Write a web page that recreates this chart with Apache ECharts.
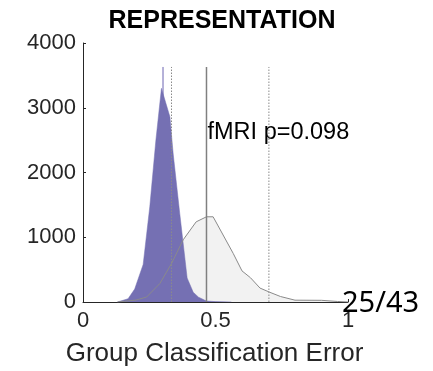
<!DOCTYPE html>
<html>
<head>
<meta charset="utf-8">
<script src="https://cdn.jsdelivr.net/npm/echarts@6/dist/echarts.min.js"></script>
<style>html,body{margin:0;padding:0;background:#fff}#c{width:433px;height:371px}</style>
</head>
<body>
<div id="c"></div>
<script>
// ---- data ----
const xTicks = [0, 0.5, 1];
const yTicks = [0, 1000, 2000, 3000, 4000];

// null (shuffled) distribution of group classification error – purple
const purpleX = [0.13, 0.17, 0.195, 0.227, 0.252, 0.275, 0.296, 0.328, 0.34, 0.365, 0.393, 0.416, 0.436, 0.466, 0.5, 0.56];
const purpleY = [0, 50, 200, 580, 1470, 2500, 3300, 2860, 2300, 1370, 370, 150, 75, 15, 6, 0];

// fMRI distribution – gray
const grayX = [0.13, 0.2, 0.24, 0.29, 0.334, 0.378, 0.427, 0.466, 0.491, 0.567, 0.6, 0.632, 0.668, 0.705, 0.745, 0.8, 0.9, 0.96, 1.0];
const grayY = [0, 30, 77, 285, 594, 960, 1238, 1316, 1316, 749, 480, 375, 215, 150, 85, 28, 26, 8, 0];

// reference lines
const lineTop = 3630;
const purpleMeanX = 0.302;
const grayMeanX = 0.466;
const dottedX = [0.334, 0.7015];

const titleText = 'REPRESENTATION';
const annotText = 'fMRI p=0.098';
const countText = '25/43';
const xLabel = 'Group Classification Error';

// ---- build ----
const zip = (xs, ys) => xs.map((x, i) => [x, ys[i]]);
const vline = x => [[x, 0], [x, lineTop]];

const chart = echarts.init(document.getElementById('c'), null, {renderer: 'canvas'});
const axisColor = '#262626';
const font = 'Liberation Sans';

chart.setOption({
  animation: false,
  grid: {left: 83, right: 85, top: 43, bottom: 69, outerBoundsMode: 'none', containLabel: false},
  xAxis: {
    type: 'value', min: xTicks[0], max: xTicks[xTicks.length - 1], interval: 0.5,
    axisLine: {lineStyle: {color: axisColor, width: 1}},
    axisTick: {inside: true, length: 3, lineStyle: {color: axisColor}},
    axisLabel: {color: axisColor, fontSize: 22, fontFamily: font, margin: 8,
      formatter: v => String(v)},
    splitLine: {show: false}
  },
  yAxis: {
    type: 'value', min: yTicks[0], max: yTicks[yTicks.length - 1], interval: 1000,
    axisLine: {show: true, lineStyle: {color: axisColor, width: 1}},
    axisTick: {show: true, inside: true, length: 3, lineStyle: {color: axisColor}},
    axisLabel: {color: axisColor, fontSize: 22, fontFamily: font, margin: 7,
      formatter: v => String(v)},
    splitLine: {show: false}
  },
  series: [
    {type: 'line', data: zip(grayX, grayY), symbol: 'none', z: 1,
      lineStyle: {width: 0}, areaStyle: {color: '#f2f2f2', opacity: 1}},
    {type: 'line', data: vline(purpleMeanX), symbol: 'none', z: 2,
      lineStyle: {color: '#b4b0d8', width: 2}},
    {type: 'line', data: zip(purpleX, purpleY), symbol: 'none', z: 3,
      lineStyle: {color: '#7570b3', width: 0.5}, areaStyle: {color: '#7570b3', opacity: 1}},
    {type: 'line', data: zip(grayX, grayY), symbol: 'none', z: 4,
      lineStyle: {color: '#8a8a8a', width: 1}},
    {type: 'line', data: vline(grayMeanX), symbol: 'none', z: 5,
      lineStyle: {color: '#808080', width: 1.5}},
    {type: 'line', data: vline(dottedX[0]), symbol: 'none', z: 5,
      lineStyle: {color: '#8a8a8a', width: 1, type: [1.5, 1.5]}},
    {type: 'line', data: vline(dottedX[1]), symbol: 'none', z: 5,
      lineStyle: {color: '#8a8a8a', width: 1, type: [1.5, 1.5]}}
  ],
  graphic: [
    {type: 'text', z: 10, style: {text: titleText, x: 222, y: 21, textAlign: 'center', textVerticalAlign: 'middle',
      font: 'bold 25px "Liberation Sans"', fill: '#000'}},
    {type: 'text', z: 10, style: {text: annotText, x: 207.5, y: 133, textAlign: 'left', textVerticalAlign: 'middle',
      font: '23.5px "Liberation Sans"', fill: '#000'}},
    {type: 'text', z: 10, style: {text: countText, x: 342, y: 304, textAlign: 'left', textVerticalAlign: 'middle',
      font: '29px "Noto Sans"', fill: '#000'}},
    {type: 'text', z: 10, style: {text: xLabel, x: 214.5, y: 354, textAlign: 'center', textVerticalAlign: 'middle',
      font: '26px "Liberation Sans"', fill: axisColor}}
  ]
});
</script>
</body>
</html>
